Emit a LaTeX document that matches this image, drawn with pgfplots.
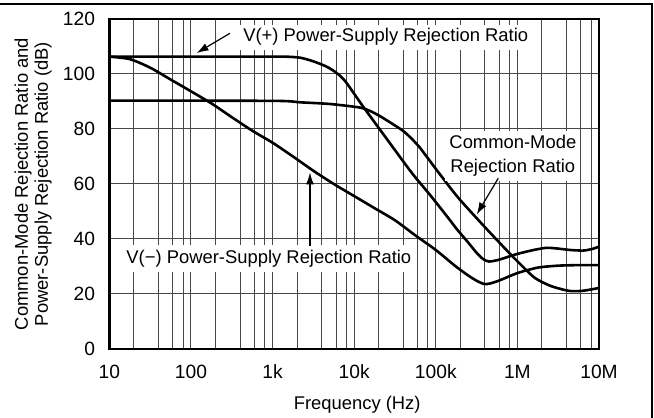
\documentclass[border=0pt]{standalone}
\usepackage{pgfplots}
\pgfplotsset{compat=1.18}
\usetikzlibrary{arrows.meta}
\usepackage{fontspec}
\setmainfont{Liberation Sans}

\pgfplotstableread{
f db
10 106.3
100 106.3
1000 106.3
1480 106.3
2200 105.9
3160 104.6
4500 102.8
5500 101.3
6800 99.2
8130 96.6
12900 88.1
20900 79.6
33100 71.5
52500 63.5
85100 56
1.35e5 48.5
1.82e5 43.5
2.45e5 39
3.16e5 35
3.8e5 32.7
4.47e5 31.8
5.25e5 32.1
6.17e5 32.6
9.77e5 34.5
1.58e6 36
2.29e6 36.8
3.16e6 36.5
4.47e6 36
6.46e6 35.8
8.3e6 36.4
1e7 37.2
}\psrrplus

\pgfplotstableread{
f db
10 90.3
100 90.3
1230 90.2
2190 89.7
5010 89.1
11700 87.8
15800 86.5
20900 84.6
28200 82.2
39800 79.3
50100 76.6
63100 73.4
79400 69.5
1.0e5 65.5
1.26e5 61.6
1.58e5 57.8
2.0e5 54.1
3.16e5 47.6
5.01e5 41.2
8.91e5 33.4
1.55e6 26.4
2.09e6 24.1
2.75e6 22.6
4.37e6 21.1
6.46e6 21.2
1e7 22.2
}\cmrr

\pgfplotstableread{
f db
10 106.3
17.8 105.4
31.6 102.3
56.2 98.0
100 93.7
178 89.3
316 84.3
562 79.4
1000 75.0
1778 70.0
3162 64.8
5623 60.0
10000 55.6
17783 51.2
31623 46.8
56234 41.3
1.0e5 36.0
1.78e5 29.9
2.82e5 25.7
3.98e5 23.6
5.62e5 24.6
1.0e6 27.6
1.78e6 29.6
3.16e6 30.3
5.62e6 30.5
1e7 30.5
}\psrrminus

\begin{document}
\fontsize{9.2}{12}\selectfont
\begin{tikzpicture}
\begin{axis}[
  at={(0,0)}, anchor=south west,
  scale only axis, width=244.8pt, height=165pt,
  xmode=log, xmin=10, xmax=1e7, ymin=0, ymax=120,
  xtick={10,100,1000,10000,100000,1000000,10000000},
  xticklabels={10,100,1k,10k,100k,1M,10M},
  minor xtick={20,40,60,80,200,400,600,800,2000,4000,6000,8000,20000,40000,60000,80000,2e5,4e5,6e5,8e5,2e6,4e6,6e6,8e6},
  ytick={0,20,...,120},
  /pgf/number format/assume math mode=true,
  grid=both,
  major grid style={black!72, line width=0.5pt},
  minor grid style={black!72, line width=0.5pt},
  major tick length=0pt, minor tick length=0pt,
  axis line style={line width=1.3pt},
  xticklabel style={anchor=base, inner sep=0pt, yshift=-14.5pt, font=\fontsize{9.6}{12}\selectfont},
  yticklabel style={anchor=east, inner sep=0pt, xshift=-7pt, font=\fontsize{9.6}{12}\selectfont},
  clip=false,
]
\addplot[black, line width=1.3pt, smooth, tension=0.45] table[x=f, y=db] {\psrrplus};
\addplot[black, line width=1.3pt, smooth, tension=0.45] table[x=f, y=db] {\cmrr};
\addplot[black, line width=1.3pt, smooth, tension=0.45] table[x=f, y=db] {\psrrminus};

\node[anchor=west, fill=white, inner sep=2pt] at (axis cs:387,113.4) {V(+) Power-Supply Rejection Ratio};
\node[anchor=west, fill=white, inner sep=2.5pt] at (axis cs:13.9,33) {V(−) Power-Supply Rejection Ratio};
\node[align=center, fill=white, inner sep=2pt] at (axis cs:8.8e5,70.2) {Common-Mode\\Rejection Ratio};

\draw[line width=0.6pt, -{Latex[length=6pt,width=4pt]}] (axis cs:300,114.8) -- (axis cs:117,107.6);
\draw[line width=0.6pt, -{Latex[length=6pt,width=4pt]}] (axis cs:2870,37.3) -- (axis cs:2870,64.2);
\draw[line width=0.6pt, -{Latex[length=6pt,width=4pt]}] (axis cs:5.83e5,62.1) -- (axis cs:3.17e5,48.9);

\node[rotate=90, align=center, font=\fontsize{9.2}{10}\selectfont] at ([xshift=-38.2pt]rel axis cs:0,0.5) {Common-Mode Rejection Ratio and\\Power-Supply Rejection Ratio (dB)};
\node at ([xshift=1.5pt, yshift=-28pt]rel axis cs:0.5,0) {Frequency (Hz)};
\end{axis}
\pgfresetboundingbox
\path[use as bounding box] ([shift={(-54.7pt,-34.5pt)}]current axis.south west) rectangle ([shift={(272.3pt,174.5pt)}]current axis.south west);
\draw[line width=0.6pt] ([shift={(-54.7pt,172.5pt)}]current axis.south west) -- ([shift={(271.3pt,172.5pt)}]current axis.south west) -- ([shift={(271.3pt,-34.5pt)}]current axis.south west);
\end{tikzpicture}
\end{document}
